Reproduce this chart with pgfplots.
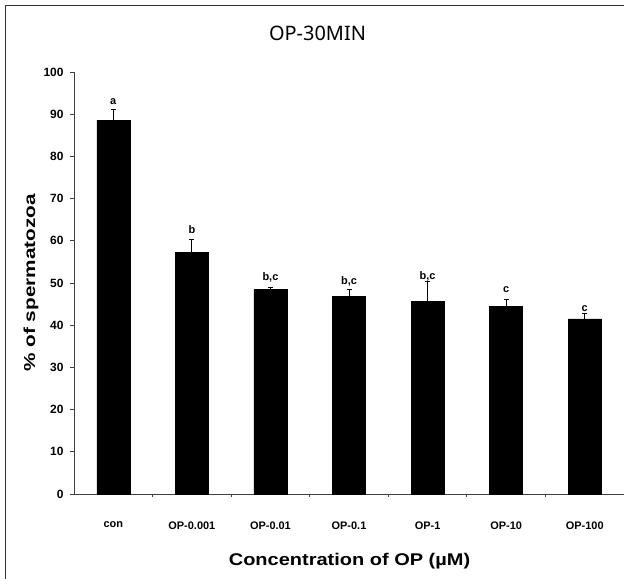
\documentclass[border=0pt]{standalone}
\usepackage{fontspec}
\setmainfont{Liberation Sans}
\newfontfamily\titlefont{Noto Sans}
\usepackage{pgfplots}
\pgfplotsset{compat=1.18}
\usepackage{graphicx}
\pgfplotstableread{
x y err
0 88.6 2.6
1 57.3 3.1
2 48.5 0.4
3 46.9 1.6
4 45.7 4.6
5 44.5 1.6
6 41.5 1.3
}\bardata
\pgfplotstableread{
x y lab
0 93.0 a
1 62.6 b
2 51.4 b,c
3 50.5 b,c
4 51.5 b,c
5 48.5 c
6 44.0 c
}\labdata
\begin{document}
\begin{tikzpicture}[x=1bp,y=1bp]
\useasboundingbox (0,0) rectangle (624,579);
\fill[white] (0,0) rectangle (624,579);
\draw[black!80, line width=1bp] (5,0) -- (5,573) -- (624,573);
\begin{axis}[
  at={(74bp,85bp)}, anchor=south west,
  scale only axis, width=550bp, height=422bp,
  xmin=-0.5, xmax=6.5, ymin=0, ymax=100,
  axis lines=left, axis line style={black!75, line width=0.9bp, -},
  ytick={0,10,...,100},
  xtick={0,...,6},
  xticklabels={con,OP-0.001,OP-0.01,OP-0.1,OP-1,OP-10,OP-100},
  /pgf/number format/assume math mode=true,
  tick align=outside, major tick length=4bp, minor tick length=3bp,
  minor x tick num=1,
  every major x tick/.style={draw=none},
  every minor x tick/.style={black!75, line width=0.8bp},
  ytick style={black!75, line width=0.8bp},
  yticklabel style={font=\fontsize{12}{12}\selectfont\bfseries, xshift=-3bp},
  xticklabel style={font=\fontsize{11}{12}\selectfont\bfseries, yshift=-20bp},
  clip=false,
]
\addplot[ybar, bar width=33bp, fill=black, draw=black,
  error bars/.cd, y dir=plus, y explicit,
  error bar style={black, line width=1bp}, error mark options={rotate=90, mark size=2.5bp, line width=1bp}]
  table[x=x, y=y, y error=err] {\bardata};
\addplot[draw=none, mark=none, nodes near coords, point meta=explicit symbolic,
  nodes near coords align={center},
  every node near coord/.append style={font=\fontsize{11}{11}\selectfont\bfseries, inner sep=0pt}]
  table[x=x, y=y, meta=lab] {\labdata};
\end{axis}
\node[font=\titlefont\fontsize{20}{22}\selectfont] at (317.5,546) {OP-30MIN};
\node[font=\fontsize{17}{19}\selectfont\bfseries] at (349.5,18) {\scalebox{1.18}[1]{Concentration of OP (µM)}};
\node[font=\fontsize{16}{18}\selectfont\bfseries, rotate=90] at (31,296) {\scalebox{1.3}[1]{\% of spermatozoa}};
\end{tikzpicture}
\end{document}
